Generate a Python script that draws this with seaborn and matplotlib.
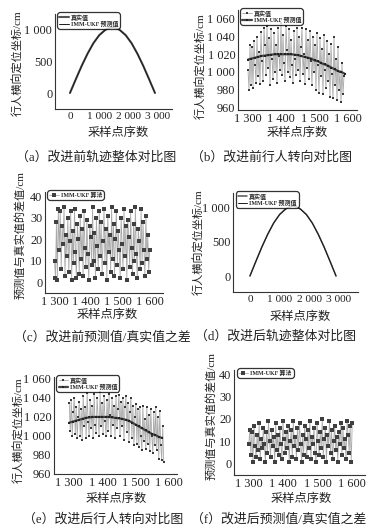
import numpy as np
import pandas as pd
import matplotlib
matplotlib.use("Agg")
import matplotlib.pyplot as plt
from matplotlib.ticker import FuncFormatter, FixedLocator
import seaborn as sns

# ---------------- data ----------------
traj_x = [0, 200, 400, 600, 800, 1000, 1200, 1350, 1450, 1550, 1700, 1900, 2100, 2300, 2500, 2700, 2900]
traj_true = [0, 215, 425, 615, 780, 905, 985, 1020, 1030, 1020, 985, 905, 780, 615, 425, 215, 0]
traj_pred = [0, 214, 423, 613, 778, 903, 983, 1016, 1024, 1016, 983, 903, 778, 613, 423, 214, 0]

sample_start = 1300
sample_step = 3

turn_before_true = [
    1002, 980, 1030, 985, 1028, 982, 1035, 1008, 988, 1040,
    995, 1022, 986, 1045, 1012, 990, 1050, 1030, 996, 1052,
    1004, 1038, 985, 1048, 1015, 992, 1044, 1000, 1030, 988,
    1050, 1018, 1002, 1055, 996, 1042, 1010, 990, 1052, 1025,
    1000, 1048, 994, 1036, 1008, 988, 1046, 1015, 996, 1050,
    1002, 1040, 990, 1028, 1050, 998, 1020, 986, 1048, 1005,
    1036, 992, 1046, 1012, 985, 1040, 1000, 1030, 980, 1044,
    1008, 976, 1038, 995, 1026, 975, 1042, 1002, 982, 1035,
    990, 1020, 972, 1032, 998, 970, 1040, 985, 1015, 968,
    1028, 980, 1000, 966, 1010, 975, 995]
turn_before_pred_x = [1300, 1310, 1320, 1330, 1340, 1350, 1360, 1370, 1380, 1390,
                      1400, 1410, 1420, 1430, 1440, 1450, 1460, 1470, 1480, 1490,
                      1500, 1510, 1520, 1530, 1540, 1550, 1560, 1570, 1580, 1590]
turn_before_pred = [1014, 1015, 1016, 1017, 1018, 1018.5, 1019, 1019.5, 1020, 1020,
                    1020, 1020, 1020, 1020, 1019.5, 1019, 1018, 1017, 1016, 1015,
                    1013, 1012, 1010, 1008.5, 1007, 1005, 1003, 1001, 1000, 998]

diff_before = [
    10, 2, 28, 1, 34, 15, 33, 6, 26, 18,
    35, 3, 22, 12, 30, 5, 19, 33, 1, 24,
    9, 34, 14, 2, 27, 20, 4, 31, 11, 25,
    3, 33, 16, 7, 29, 13, 1, 26, 21, 8,
    35, 10, 23, 2, 30, 17, 6, 33, 12, 28,
    4, 19, 34, 9, 25, 1, 31, 14, 22, 5,
    35, 11, 27, 3, 20, 33, 8, 24, 15, 2,
    30, 18, 6, 34, 12, 26, 1, 29, 21, 7,
    33, 16, 4, 27, 10, 35, 13, 2, 25, 19,
    6, 34, 9, 28, 15, 3, 31, 11, 22, 5,
    15]

turn_after_true = [
    1035, 1005, 1038, 1000, 1025, 1040, 1002, 1030, 998, 1020,
    1036, 1000, 1028, 996, 1042, 1010, 1030, 998, 1045, 1015,
    1000, 1038, 1008, 1032, 998, 1044, 1012, 1003, 1040, 1020,
    1000, 1046, 1010, 1035, 1002, 1042, 1016, 1000, 1038, 1005,
    1044, 1022, 1000, 1040, 1012, 1032, 998, 1042, 1008, 1028,
    1043, 1000, 1036, 1010, 1040, 996, 1030, 1042, 1004, 1035,
    994, 1025, 1040, 998, 1032, 990, 1020, 1034, 992, 1028,
    988, 1030, 1000, 985, 1032, 995, 1018, 986, 1030, 992,
    1022, 984, 1028, 1000, 982, 1025, 990, 1030, 985, 1020,
    976, 1026, 990, 975, 1010, 973]
turn_after_pred_x = [1300, 1310, 1320, 1330, 1340, 1350, 1360, 1370, 1380, 1390,
                     1400, 1410, 1420, 1430, 1440, 1450, 1460, 1470, 1480, 1490,
                     1500, 1510, 1520, 1530, 1540, 1550, 1560, 1570, 1580]
turn_after_pred = [1014, 1015, 1016, 1017, 1018, 1019, 1019.5, 1020, 1020, 1020,
                   1020, 1020, 1020, 1019.5, 1019, 1018.5, 1018, 1017, 1016, 1014,
                   1012, 1010, 1008, 1006, 1004, 1002, 1001, 999, 998]

diff_after = [
    9, 15, 4, 14, 1, 17, 8, 3, 13, 6,
    18, 2, 11, 7, 16, 9, 1, 14, 5, 19,
    10, 3, 15, 8, 12, 1, 18, 6, 13, 4,
    16, 9, 2, 19, 11, 5, 14, 7, 17, 1,
    10, 15, 3, 19, 8, 12, 2, 16, 6, 18,
    9, 1, 13, 4, 17, 11, 3, 15, 7, 19,
    2, 12, 9, 16, 5, 1, 18, 10, 4, 14,
    7, 20, 3, 11, 16, 1, 13, 8, 19, 5,
    15, 2, 10, 17, 6, 12, 1, 14, 9, 18,
    4, 16, 7, 11, 2, 19, 13, 5, 17, 1,
    18]

traj_xticks = [0, 1000, 2000, 3000]
traj_yticks = [0, 500, 1000]
turn_xticks = [1300, 1400, 1500, 1600]
turn_yticks = [960, 980, 1000, 1020, 1040, 1060]
diff_yticks = [0, 10, 20, 30, 40]

label_true = "真实值"
label_pred = "IMM-UKF 预测值"
label_alg = "IMM-UKF 算法"
ylabel_pos = "行人横向定位坐标/cm"
ylabel_diff = "预测值与真实值的差值/cm"
xlabel = "采样点序数"
captions = ["（a）改进前轨迹整体对比图", "（b）改进前行人转向对比图",
            "（c）改进前预测值/真实值之差", "（d）改进后轨迹整体对比图",
            "（e）改进后行人转向对比图", "（f）改进后预测值/真实值之差"]

# ---------------- style ----------------
sns.set_style("white")
plt.rcParams['font.family'] = ['Liberation Serif', 'Noto Sans CJK SC']
plt.rcParams['axes.unicode_minus'] = False

W, H = 380, 531
fig = plt.figure(figsize=(W / 100, H / 100), dpi=100)


def px_axes(l, t, r, b):
    return fig.add_axes([l / W, 1 - b / H, (r - l) / W, (b - t) / H])


def px_text(x, y, s, size, rot=0):
    fig.text(x / W, 1 - y / H, s, ha='center', va='center', fontsize=size,
             rotation=rot, color='#222222',
             family=['Liberation Serif', 'Noto Sans CJK SC'])


fmt = FuncFormatter(lambda v, p: f"{int(round(v)):,}".replace(",", " "))

TRUE_LINE = '#a9a9a9'
MARK = '#3a3a3a'


def style(ax, xticks, yticks, xlim, ylim, xsize=8.8):
    ax.set_xlim(*xlim)
    ax.set_ylim(*ylim)
    ax.xaxis.set_major_locator(FixedLocator(xticks))
    ax.yaxis.set_major_locator(FixedLocator(yticks))
    ax.xaxis.set_major_formatter(fmt)
    ax.yaxis.set_major_formatter(fmt)
    for s in ['top', 'right']:
        ax.spines[s].set_visible(False)
    for s in ['left', 'bottom']:
        ax.spines[s].set_color('#333333')
        ax.spines[s].set_linewidth(0.8)
    ax.tick_params(direction='in', length=2, width=0.6, labelsize=8.8, pad=2,
                   colors='#222222')
    ax.tick_params(axis='x', labelsize=xsize)
    ax.set_xlabel("")
    ax.set_ylabel("")


def legend(ax):
    leg = ax.legend(loc='upper left', bbox_to_anchor=(0.02, 1.02),
                    frameon=True, fancybox=True, edgecolor='black',
                    borderpad=0.25, labelspacing=0.05, handlelength=1.6,
                    handletextpad=0.3, borderaxespad=0.1,
                    prop={'family': ['Liberation Serif', 'Noto Sans CJK SC'],
                          'size': 4.3, 'weight': 'bold'})
    leg.get_frame().set_linewidth(0.9)
    leg.get_frame().set_boxstyle('round,pad=0.1,rounding_size=0.5')


def traj_panel(ax, lw_true):
    sns.lineplot(x=traj_x, y=traj_true, ax=ax, color='#555555', linewidth=lw_true,
                 label=label_true)
    sns.lineplot(x=traj_x, y=traj_pred, ax=ax, color='#1a1a1a', linewidth=0.7,
                 label=label_pred)


def turn_panel(ax, true_vals, px, pv):
    xs = np.arange(sample_start, sample_start + sample_step * len(true_vals), sample_step)
    sns.lineplot(x=xs, y=true_vals, ax=ax, color=TRUE_LINE, linewidth=0.6,
                 marker='s', markersize=1.8, markerfacecolor=MARK,
                 markeredgecolor=MARK, markeredgewidth=0, label=label_true)
    sns.lineplot(x=px, y=pv, ax=ax, color='#444444', linewidth=1.6,
                 marker='s', markersize=1.9, markerfacecolor='#222222',
                 markeredgecolor='#222222', markeredgewidth=0, label=label_pred)


def diff_panel(ax, vals):
    xs = np.arange(sample_start, sample_start + sample_step * len(vals), sample_step)
    sns.lineplot(x=xs, y=vals, ax=ax, color=TRUE_LINE, linewidth=0.6,
                 marker='s', markersize=2.2, markerfacecolor='#404040',
                 markeredgecolor='#404040', markeredgewidth=0, label=label_alg)


# (a)
ax = px_axes(55, 14, 172, 109)
traj_panel(ax, 1.5)
style(ax, traj_xticks, traj_yticks, (-510, 3480), (-250, 1235), xsize=8.2)
legend(ax)
px_text(17, 63, ylabel_pos, 8, 90)
px_text(118, 133, xlabel, 8.8)
px_text(96, 157, captions[0], 9.3)

# (b)
ax = px_axes(238, 10, 357, 110)
turn_panel(ax, turn_before_true, turn_before_pred_x, turn_before_pred)
style(ax, turn_xticks, turn_yticks, (1270, 1627), (957, 1070))
legend(ax)
px_text(200, 66, ylabel_pos, 8, 90)
px_text(297, 133, xlabel, 8.8)
px_text(272, 157, captions[1], 9.3)

# (c)
ax = px_axes(45, 192, 163, 293)
diff_panel(ax, diff_before)
style(ax, [1300, 1400, 1500, 1600], diff_yticks, (1270, 1642), (-5, 42))
legend(ax)
px_text(20, 235, ylabel_diff, 8, 90)
px_text(107, 315, xlabel, 8.8)
px_text(102, 337, captions[2], 9.3)

# (d)
ax = px_axes(233, 193, 358, 292)
traj_panel(ax, 1.1)
style(ax, traj_xticks, traj_yticks, (-570, 3640), (-235, 1220), xsize=8.2)
legend(ax)
px_text(198, 242, ylabel_pos, 8, 90)
px_text(300, 317, xlabel, 8.8)
px_text(275, 336, captions[3], 9.3)

# (e)
ax = px_axes(54, 377, 177, 474)
turn_panel(ax, turn_after_true, turn_after_pred_x, turn_after_pred)
style(ax, turn_xticks, turn_yticks, (1254, 1625), (960, 1062))
legend(ax)
px_text(18, 430, ylabel_pos, 8, 90)
px_text(116, 499, xlabel, 8.8)
px_text(103, 519, captions[4], 9.3)

# (f)
ax = px_axes(234, 370, 365, 475)
diff_panel(ax, diff_after)
style(ax, [1300, 1400, 1500, 1600], diff_yticks, (1257, 1637), (-5, 41.8))
legend(ax)
px_text(211, 416, ylabel_diff, 8, 90)
px_text(301, 499, xlabel, 8.8)
px_text(279, 519, captions[5], 9.3)

fig.savefig("out.png", dpi=100)
